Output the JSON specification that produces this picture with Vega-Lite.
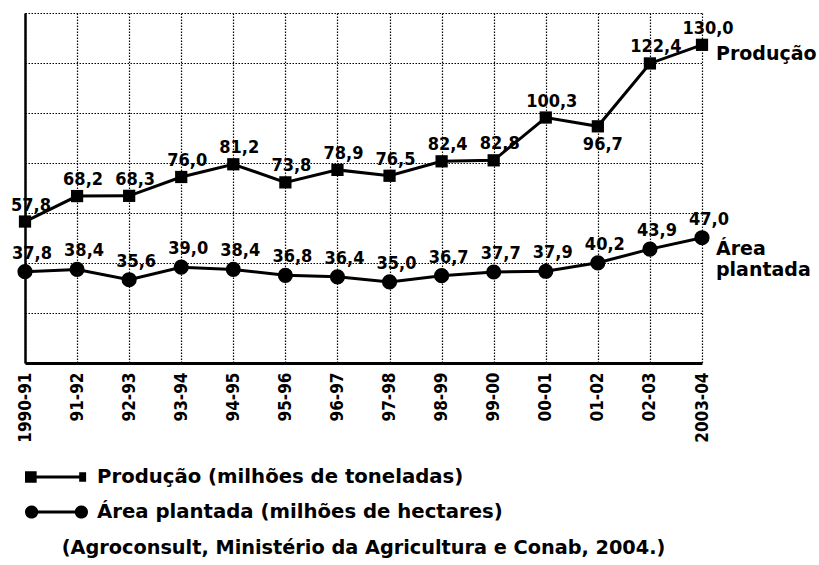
{
  "$schema": "https://vega.github.io/schema/vega-lite/v6.json",
  "width": 677,
  "height": 350,
  "autosize": {"type": "none"},
  "padding": {"left": 25, "top": 13, "right": 117, "bottom": 202},
  "background": "white",
  "config": {
    "view": {"stroke": null},
    "font": "DejaVu Sans Condensed",
    "text": {"font": "DejaVu Sans Condensed", "fontWeight": "bold", "fontSize": 18, "color": "black"}
  },
  "title": {
    "text": "(Agroconsult, Ministério da Agricultura e Conab, 2004.)",
    "orient": "bottom",
    "anchor": "middle",
    "frame": "group",
    "offset": 17,
    "font": "DejaVu Sans",
    "fontWeight": "bold",
    "fontSize": 19.3,
    "color": "black"
  },
  "data": {
    "values": [
      {"periodo": "1990-91", "serie": "Produção", "valor": 57.8, "rotulo": "57,8"},
      {"periodo": "91-92", "serie": "Produção", "valor": 68.2, "rotulo": "68,2"},
      {"periodo": "92-93", "serie": "Produção", "valor": 68.3, "rotulo": "68,3"},
      {"periodo": "93-94", "serie": "Produção", "valor": 76.0, "rotulo": "76,0"},
      {"periodo": "94-95", "serie": "Produção", "valor": 81.2, "rotulo": "81,2"},
      {"periodo": "95-96", "serie": "Produção", "valor": 73.8, "rotulo": "73,8"},
      {"periodo": "96-97", "serie": "Produção", "valor": 78.9, "rotulo": "78,9"},
      {"periodo": "97-98", "serie": "Produção", "valor": 76.5, "rotulo": "76,5"},
      {"periodo": "98-99", "serie": "Produção", "valor": 82.4, "rotulo": "82,4"},
      {"periodo": "99-00", "serie": "Produção", "valor": 82.8, "rotulo": "82,8"},
      {"periodo": "00-01", "serie": "Produção", "valor": 100.3, "rotulo": "100,3"},
      {"periodo": "01-02", "serie": "Produção", "valor": 96.7, "rotulo": "96,7"},
      {"periodo": "02-03", "serie": "Produção", "valor": 122.4, "rotulo": "122,4"},
      {"periodo": "2003-04", "serie": "Produção", "valor": 130.0, "rotulo": "130,0"},
      {"periodo": "1990-91", "serie": "Área plantada", "valor": 37.8, "rotulo": "37,8"},
      {"periodo": "91-92", "serie": "Área plantada", "valor": 38.4, "rotulo": "38,4"},
      {"periodo": "92-93", "serie": "Área plantada", "valor": 35.6, "rotulo": "35,6"},
      {"periodo": "93-94", "serie": "Área plantada", "valor": 39.0, "rotulo": "39,0"},
      {"periodo": "94-95", "serie": "Área plantada", "valor": 38.4, "rotulo": "38,4"},
      {"periodo": "95-96", "serie": "Área plantada", "valor": 36.8, "rotulo": "36,8"},
      {"periodo": "96-97", "serie": "Área plantada", "valor": 36.4, "rotulo": "36,4"},
      {"periodo": "97-98", "serie": "Área plantada", "valor": 35.0, "rotulo": "35,0"},
      {"periodo": "98-99", "serie": "Área plantada", "valor": 36.7, "rotulo": "36,7"},
      {"periodo": "99-00", "serie": "Área plantada", "valor": 37.7, "rotulo": "37,7"},
      {"periodo": "00-01", "serie": "Área plantada", "valor": 37.9, "rotulo": "37,9"},
      {"periodo": "01-02", "serie": "Área plantada", "valor": 40.2, "rotulo": "40,2"},
      {"periodo": "02-03", "serie": "Área plantada", "valor": 43.9, "rotulo": "43,9"},
      {"periodo": "2003-04", "serie": "Área plantada", "valor": 47.0, "rotulo": "47,0"}
    ]
  },
  "encoding": {
    "x": {
      "field": "periodo",
      "type": "ordinal",
      "sort": null,
      "scale": {"type": "point", "padding": 0},
      "axis": {
        "title": null,
        "labelAngle": -90,
        "labelFont": "DejaVu Sans Condensed",
        "labelFontWeight": "bold",
        "labelFontSize": 17,
        "labelColor": "black",
        "labelPadding": 9,
        "labelOverlap": false,
        "ticks": false,
        "domainColor": "black",
        "domainWidth": 3,
        "grid": true,
        "gridColor": "black",
        "gridDash": [1.5, 1.5],
        "gridWidth": 1.2
      }
    }
  },
  "layer": [
    {
      "transform": [{"filter": "datum.serie == 'Produção'"}],
      "encoding": {
        "y": {
          "field": "valor",
          "type": "quantitative",
          "scale": {"domain": [0, 143], "nice": false, "zero": false},
          "axis": {
            "title": null,
            "values": [0, 20.4286, 40.8571, 61.2857, 81.7143, 102.1429, 122.5714, 143],
            "labels": false,
            "ticks": false,
            "grid": true,
            "gridColor": "black",
            "gridDash": [1.5, 1.5],
            "gridWidth": 1.2,
            "domainColor": "black",
            "domainWidth": 2.5
          }
        }
      },
      "layer": [
        {"mark": {"type": "line", "color": "black", "strokeWidth": 3}},
        {"mark": {"type": "point", "shape": "square", "filled": true, "color": "black", "opacity": 1, "size": 150}},
        {
          "transform": [{"filter": "datum.periodo != '01-02'"}],
          "mark": {"type": "text", "baseline": "alphabetic", "align": "center", "dx": 6, "dy": -11},
          "encoding": {"text": {"field": "rotulo"}}
        },
        {
          "transform": [{"filter": "datum.periodo == '01-02'"}],
          "mark": {"type": "text", "baseline": "top", "align": "center", "dx": 5, "dy": 10},
          "encoding": {"text": {"field": "rotulo"}}
        },
        {
          "transform": [{"filter": "datum.periodo == '2003-04'"}],
          "mark": {"type": "text", "baseline": "middle", "align": "left", "dx": 14, "dy": 9, "font": "DejaVu Sans", "fontSize": 19},
          "encoding": {"text": {"value": "Produção"}}
        }
      ]
    },
    {
      "transform": [{"filter": "datum.serie == 'Área plantada'"}],
      "encoding": {
        "y": {
          "field": "valor",
          "type": "quantitative",
          "scale": {"domain": [13, 108], "nice": false, "zero": false},
          "axis": null
        }
      },
      "layer": [
        {"mark": {"type": "line", "color": "black", "strokeWidth": 3}},
        {"mark": {"type": "point", "shape": "circle", "filled": true, "color": "black", "opacity": 1, "size": 230}},
        {
          "mark": {"type": "text", "baseline": "alphabetic", "align": "center", "dx": 7, "dy": -13},
          "encoding": {"text": {"field": "rotulo"}}
        },
        {
          "transform": [{"filter": "datum.periodo == '2003-04'"}],
          "mark": {"type": "text", "baseline": "top", "align": "left", "dx": 14, "dy": 2, "lineBreak": "\n", "lineHeight": 21, "font": "DejaVu Sans", "fontSize": 19},
          "encoding": {"text": {"value": "Área\nplantada"}}
        }
      ]
    },
    {
      "mark": {"type": "point", "filled": true, "color": "black", "opacity": 0, "size": 900},
      "encoding": {
        "shape": {
          "field": "serie",
          "type": "nominal",
          "scale": {
            "domain": ["Produção", "Área plantada"],
            "range": [
              "M-2.1,-0.378H-1.323V-0.105H1.512V-0.315H1.974V0.315H1.512V0.105H-1.323V0.378H-2.1Z",
              "M-2.1,0A0.441,0.441 0 1,1 -1.218,0A0.441,0.441 0 1,1 -2.1,0Z M-1.26,-0.105H1.26V0.105H-1.26Z M1.218,0A0.441,0.441 0 1,1 2.1,0A0.441,0.441 0 1,1 1.218,0Z"
            ]
          },
          "legend": {
            "title": null,
            "orient": "none",
            "legendX": 16.5,
            "legendY": 449,
            "padding": 0,
            "symbolSize": 900,
            "symbolFillColor": "black",
            "symbolStrokeColor": "black",
            "symbolStrokeWidth": 0,
            "symbolOpacity": 1,
            "labelFont": "DejaVu Sans",
            "labelFontWeight": "bold",
            "labelFontSize": 19.7,
            "labelColor": "black",
            "labelOffset": 25.5,
            "labelLimit": 0,
            "rowPadding": 10,
            "labelExpr": "datum.label == 'Produção' ? 'Produção (milhões de toneladas)' : 'Área plantada (milhões de hectares)'"
          }
        }
      }
    }
  ],
  "resolve": {"scale": {"y": "independent", "shape": "independent"}}
}
